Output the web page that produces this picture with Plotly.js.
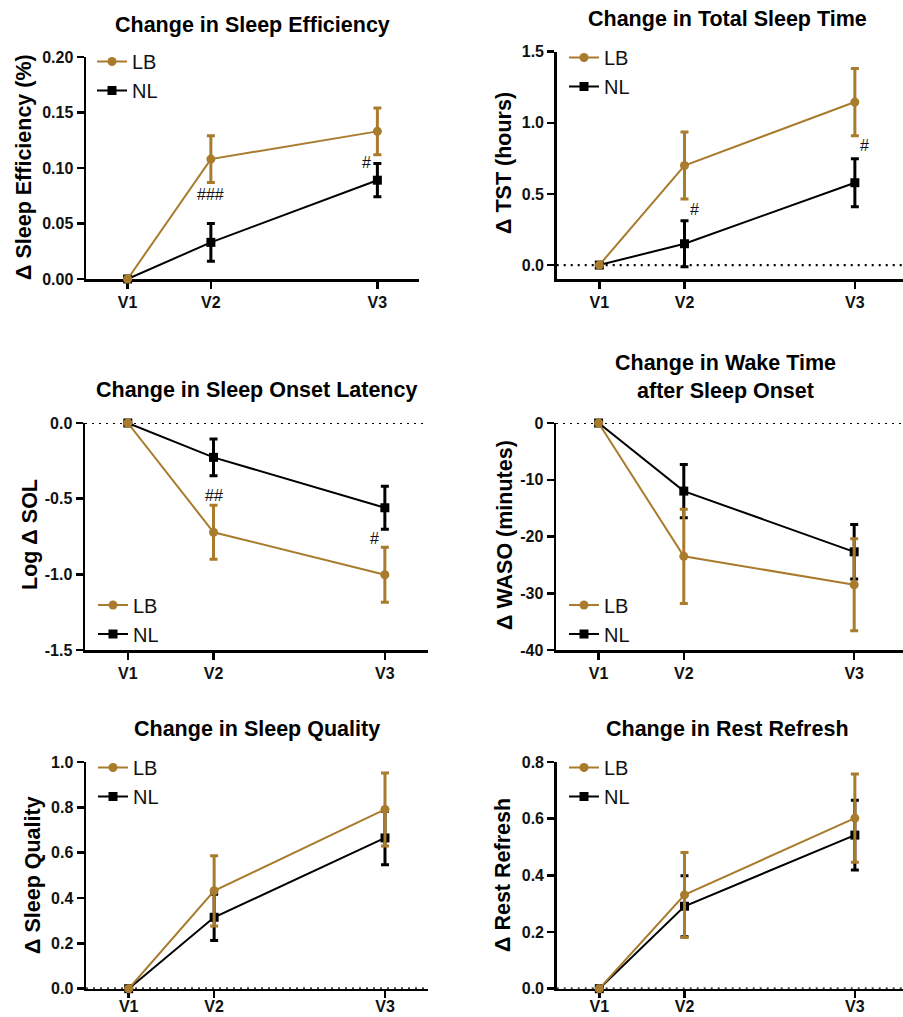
<!DOCTYPE html>
<html><head><meta charset="utf-8">
<script src="https://cdn.plot.ly/plotly-3.0.1.min.js"></script>
<style>html,body{margin:0;padding:0;background:#fff}#chart{width:903px;height:1017px}</style>
</head><body><div id="chart"></div>
<script>
// ---------- DATA ----------
const visits = ['V1', 'V2', 'V3'];
const visitPos = [1, 2, 4];
const groupNames = ['LB', 'NL'];

// Sleep efficiency
const seLB = [0, 0.108, 0.133];
const seLBerr = [0, 0.021, 0.021];
const seNL = [0, 0.033, 0.089];
const seNLerr = [0, 0.017, 0.015];
const seTicks = [0, 0.05, 0.10, 0.15, 0.20];
const seTickText = ['0.00', '0.05', '0.10', '0.15', '0.20'];
const seSigText = ['###', '#'];
const seSigX = [2, 3.87];
const seSigY = [0.076, 0.105];

// Total sleep time
const tstLB = [0, 0.70, 1.146];
const tstLBerr = [0, 0.235, 0.236];
const tstNL = [0, 0.150, 0.579];
const tstNLerr = [0, 0.162, 0.169];
const tstTicks = [0, 0.5, 1.0, 1.5];
const tstTickText = ['0.0', '0.5', '1.0', '1.5'];
const tstSigText = ['#', '#'];
const tstSigX = [2.12, 4.11];
const tstSigY = [0.394, 0.839];

// Sleep onset latency
const solLB = [0, -0.722, -1.003];
const solLBerr = [0, 0.178, 0.182];
const solNL = [0, -0.227, -0.560];
const solNLerr = [0, 0.121, 0.142];
const solTicks = [0, -0.5, -1.0, -1.5];
const solTickText = ['0.0', '-0.5', '-1.0', '-1.5'];
const solSigText = ['##', '#'];
const solSigX = [2, 3.88];
const solSigY = [-0.48, -0.76];

// Wake after sleep onset
const wasoLB = [0, -23.5, -28.5];
const wasoLBerr = [0, 8.3, 8.1];
const wasoNL = [0, -12.0, -22.7];
const wasoNLerr = [0, 4.7, 4.8];
const wasoTicks = [0, -10, -20, -30, -40];
const wasoTickText = ['0', '-10', '-20', '-30', '-40'];

// Sleep quality
const sqLB = [0, 0.432, 0.791];
const sqLBerr = [0, 0.155, 0.161];
const sqNL = [0, 0.315, 0.665];
const sqNLerr = [0, 0.102, 0.118];
const sqTicks = [0, 0.2, 0.4, 0.6, 0.8, 1.0];
const sqTickText = ['0.0', '0.2', '0.4', '0.6', '0.8', '1.0'];

// Rest refresh
const rrLB = [0, 0.331, 0.602];
const rrLBerr = [0, 0.150, 0.156];
const rrNL = [0, 0.291, 0.542];
const rrNLerr = [0, 0.108, 0.123];
const rrTicks = [0, 0.2, 0.4, 0.6, 0.8];
const rrTickText = ['0.0', '0.2', '0.4', '0.6', '0.8'];

// ---------- LAYOUT HELPERS ----------
const W = 903, H = 1017;
const px = x => x / W;
const py = y => 1 - y / H;
const FONT = 'Arial, "Liberation Sans", Helvetica, sans-serif';
const GOLD = '#A87B2D';
const BLACK = '#000000';

const panels = [
  {title: 'Change in Sleep Efficiency', ytitle: 'Δ Sleep Efficiency (%)',
   lb: seLB, lbErr: seLBerr, nl: seNL, nlErr: seNLerr, ticks: seTicks, tickText: seTickText,
   sigText: seSigText, sigX: seSigX, sigY: seSigY,
   yRange: [0, 0.2], xPx: [86, 419], yPx: [57, 279], xRange: [0.5, 4.5],
   titlePos: [252, 25], ytitlePos: [24, 167], legendPos: [92, 42], zero: false, bottom: false},
  {title: 'Change in Total Sleep Time', ytitle: 'Δ TST (hours)',
   lb: tstLB, lbErr: tstLBerr, nl: tstNL, nlErr: tstNLerr, ticks: tstTicks, tickText: tstTickText,
   sigText: tstSigText, sigX: tstSigX, sigY: tstSigY,
   yRange: [-0.1, 1.5], xPx: [556.7, 903], yPx: [51.7, 279.3], xRange: [0.5, 4.565],
   titlePos: [727, 19], ytitlePos: [504, 163], legendPos: [564, 38], zero: true, bottom: false},
  {title: 'Change in Sleep Onset Latency', ytitle: 'Log Δ SOL',
   lb: solLB, lbErr: solLBerr, nl: solNL, nlErr: solNLerr, ticks: solTicks, tickText: solTickText,
   sigText: solSigText, sigX: solSigX, sigY: solSigY,
   yRange: [-1.5, 0], xPx: [85, 427.7], yPx: [423, 650], xRange: [0.5, 4.5],
   titlePos: [256, 390], ytitlePos: [30, 535], legendPos: [93, 585.5], zero: true, bottom: false},
  {title: 'Change in Wake Time<br>after Sleep Onset', ytitle: 'Δ WASO (minutes)',
   lb: wasoLB, lbErr: wasoLBerr, nl: wasoNL, nlErr: wasoNLerr, ticks: wasoTicks, tickText: wasoTickText,
   sigText: [], sigX: [], sigY: [],
   yRange: [-40, 0], xPx: [556, 903], yPx: [423, 650], xRange: [0.5, 4.573],
   titlePos: [725, 377], ytitlePos: [505, 535], legendPos: [564, 585.5], zero: true, bottom: false},
  {title: 'Change in Sleep Quality', ytitle: 'Δ Sleep Quality',
   lb: sqLB, lbErr: sqLBerr, nl: sqNL, nlErr: sqNLerr, ticks: sqTicks, tickText: sqTickText,
   sigText: [], sigX: [], sigY: [],
   yRange: [0, 1], xPx: [86, 427.7], yPx: [762, 988.7], xRange: [0.5, 4.5],
   titlePos: [257, 728.5], ytitlePos: [33, 875], legendPos: [93, 748], zero: true, bottom: true},
  {title: 'Change in Rest Refresh', ytitle: 'Δ Rest Refresh',
   lb: rrLB, lbErr: rrLBerr, nl: rrNL, nlErr: rrNLerr, ticks: rrTicks, tickText: rrTickText,
   sigText: [], sigX: [], sigY: [],
   yRange: [0, 0.8], xPx: [556.7, 903], yPx: [762, 988.7], xRange: [0.5, 4.565],
   titlePos: [727, 728.5], ytitlePos: [503, 875], legendPos: [564, 748], zero: true, bottom: true}
];

const traces = [];
const layout = {
  width: W, height: H,
  margin: {l: 0, r: 0, t: 0, b: 0},
  paper_bgcolor: '#ffffff', plot_bgcolor: '#ffffff',
  font: {family: FONT, color: '#000'},
  showlegend: true,
  annotations: [],
  shapes: []
};

panels.forEach((p, i) => {
  const n = i + 1;
  const sfx = n === 1 ? '' : String(n);
  const xa = 'x' + sfx, ya = 'y' + sfx;
  const legName = 'legend' + sfx;

  const axisCommon = {
    showline: true, linecolor: BLACK, linewidth: 2.5,
    ticks: 'outside', ticklen: 7, tickwidth: 2.5, tickcolor: BLACK,
    tickfont: {family: FONT, size: 16, weight: 'bold', color: '#111'},
    showgrid: false, zeroline: false, fixedrange: true, layer: 'below traces'
  };
  layout['xaxis' + sfx] = Object.assign({}, axisCommon, {
    domain: [px(p.xPx[0]), px(p.xPx[1])], range: p.xRange, anchor: ya,
    tickmode: 'array', tickvals: visitPos, ticktext: visits,
    ticklabelstandoff: p.bottom ? -5 : 0
  });
  layout['yaxis' + sfx] = Object.assign({}, axisCommon, {
    domain: [py(p.yPx[1]), py(p.yPx[0])], range: p.yRange, anchor: xa,
    tickmode: 'array', tickvals: p.ticks, ticktext: p.tickText
  });

  // NL first so LB draws on top; legend order via legendrank
  traces.push({
    type: 'scatter', mode: 'lines+markers', name: groupNames[1],
    x: visitPos, y: p.nl, xaxis: xa, yaxis: ya, legend: legName, legendrank: 2,
    line: {color: BLACK, width: 2},
    marker: {symbol: 'square', size: 9, color: BLACK},
    error_y: {type: 'data', array: p.nlErr, visible: true, color: BLACK, thickness: 3, width: 4},
    cliponaxis: false, hoverinfo: 'skip'
  });
  traces.push({
    type: 'scatter', mode: 'lines+markers', name: groupNames[0],
    x: visitPos, y: p.lb, xaxis: xa, yaxis: ya, legend: legName, legendrank: 1,
    line: {color: GOLD, width: 2},
    marker: {symbol: 'circle', size: 9, color: GOLD},
    error_y: {type: 'data', array: p.lbErr, visible: true, color: GOLD, thickness: 3, width: 4},
    cliponaxis: false, hoverinfo: 'skip'
  });

  layout[legName] = {
    x: px(p.legendPos[0]), y: py(p.legendPos[1]), xanchor: 'left', yanchor: 'top',
    xref: 'paper', yref: 'paper',
    font: {family: FONT, size: 20, color: '#111'},
    bgcolor: 'rgba(0,0,0,0)', borderwidth: 0, traceorder: 'normal'
  };

  // panel title
  layout.annotations.push({
    xref: 'paper', yref: 'paper', x: px(p.titlePos[0]), y: py(p.titlePos[1]),
    xanchor: 'center', yanchor: 'middle', showarrow: false, text: p.title,
    font: {family: FONT, size: 21.5, weight: 'bold', color: '#000'}
  });
  // y-axis title
  layout.annotations.push({
    xref: 'paper', yref: 'paper', x: px(p.ytitlePos[0]), y: py(p.ytitlePos[1]),
    xanchor: 'center', yanchor: 'middle', showarrow: false, textangle: -90, text: p.ytitle,
    font: {family: FONT, size: 21.5, weight: 'bold', color: '#000'}
  });
  // significance marks
  p.sigText.forEach((t, k) => {
    layout.annotations.push({
      xref: xa, yref: ya, x: p.sigX[k], y: p.sigY[k], text: t, showarrow: false,
      xanchor: 'center', yanchor: 'middle',
      font: {family: FONT, size: 16, color: '#111'}
    });
  });
  // dotted zero line
  if (p.zero) {
    layout.shapes.push({
      type: 'line', xref: xa + ' domain', x0: 0, x1: 1, yref: ya, y0: 0, y1: 0,
      line: {color: BLACK, width: 2.2, dash: '2px,5px'}, layer: 'below'
    });
  }
});

Plotly.newPlot('chart', traces, layout, {staticPlot: true, displayModeBar: false});
</script>
</body></html>
